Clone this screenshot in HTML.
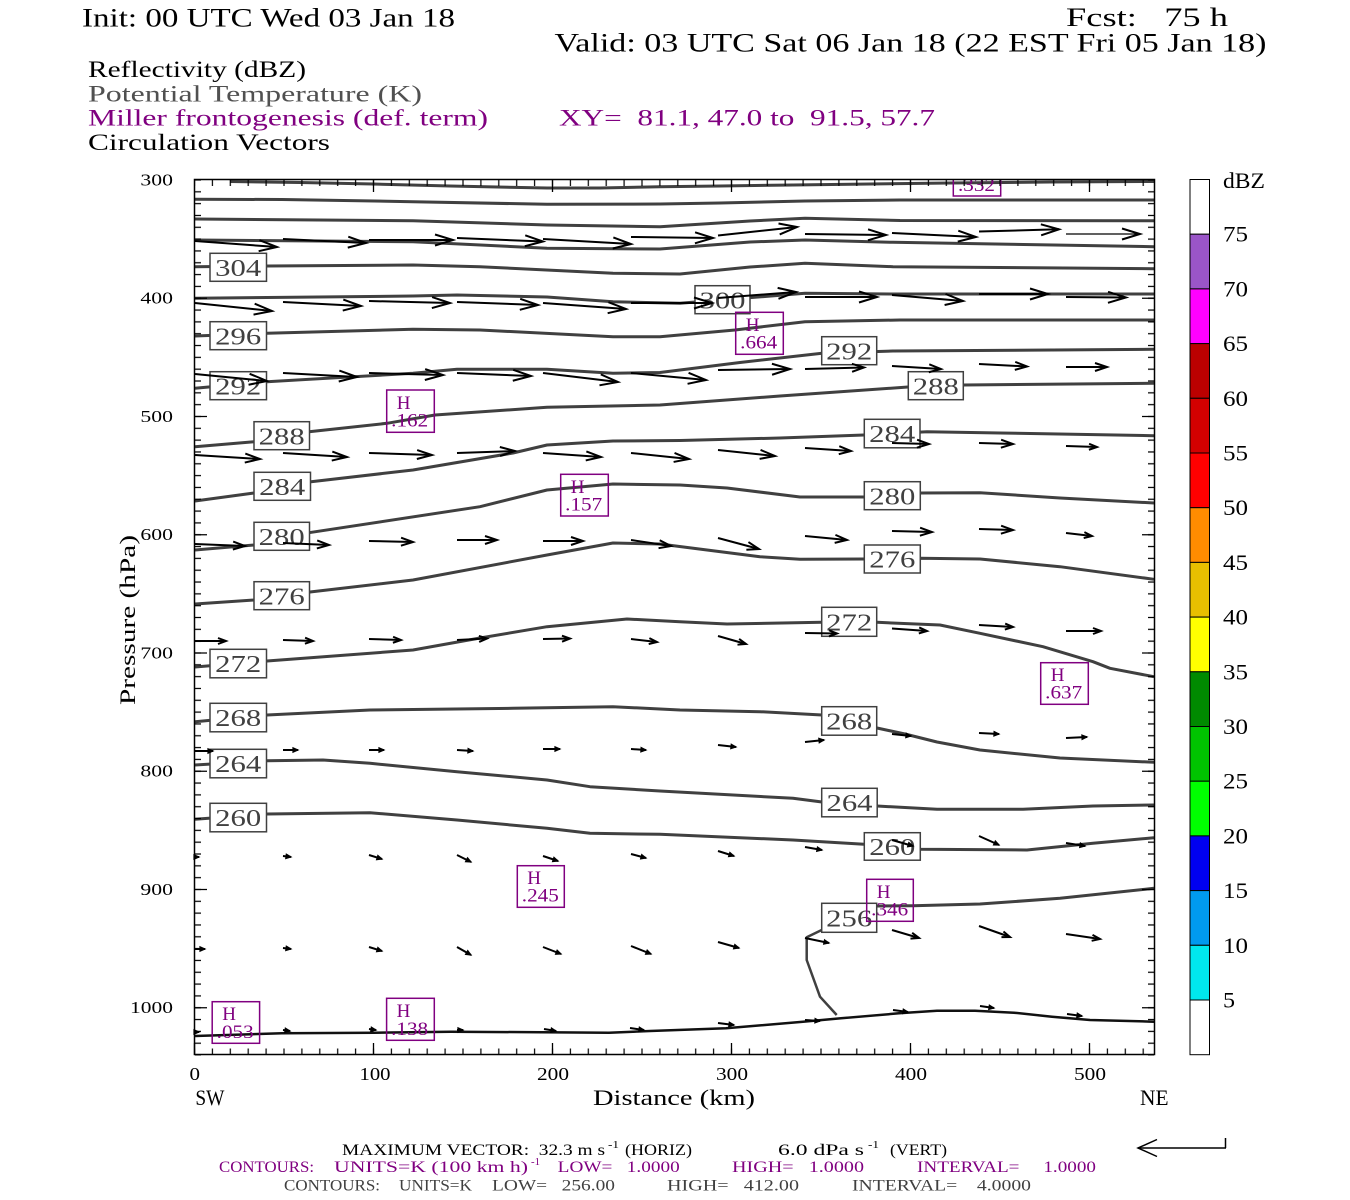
<!DOCTYPE html>
<html><head><meta charset="utf-8"><style>
html,body{margin:0;padding:0;background:#fff;}
svg{display:block;font-family:"Liberation Serif",serif;}
text{white-space:pre;}
</style></head><body>
<svg width="1350" height="1200" viewBox="0 0 1350 1200" xmlns="http://www.w3.org/2000/svg">
<defs>
<clipPath id="plot"><rect x="194.5" y="179.5" width="960" height="875"/></clipPath>
<pattern id="tx" x="193.5" y="0" width="17.9" height="1200" patternUnits="userSpaceOnUse"><line x1="1" y1="0" x2="1" y2="1200" stroke="#000" stroke-width="1.2"/></pattern>
<pattern id="ty" x="0" y="179" width="1350" height="11.825" patternUnits="userSpaceOnUse"><line x1="0" y1="1" x2="1350" y2="1" stroke="#000" stroke-width="1.2"/></pattern>
<marker id="mL" viewBox="0 0 20 12" refX="18" refY="6" markerWidth="20" markerHeight="12" markerUnits="userSpaceOnUse" orient="auto" overflow="visible"><path d="M0,0.5 L18,6 L0,11.5" fill="none" stroke="#000" stroke-width="2"/></marker>
<marker id="mML" viewBox="0 0 17 11" refX="15" refY="5.5" markerWidth="17" markerHeight="11" markerUnits="userSpaceOnUse" orient="auto" overflow="visible"><path d="M0,1 L15,5.5 L0,10" fill="none" stroke="#000" stroke-width="2"/></marker>
<marker id="mM" viewBox="0 0 14 10" refX="12" refY="5" markerWidth="14" markerHeight="10" markerUnits="userSpaceOnUse" orient="auto" overflow="visible"><path d="M0,1 L12,5 L0,9" fill="none" stroke="#000" stroke-width="2"/></marker>
<marker id="mS" viewBox="0 0 10 8" refX="8" refY="4" markerWidth="10" markerHeight="8" markerUnits="userSpaceOnUse" orient="auto" overflow="visible"><path d="M0,1 L8,4 L0,7" fill="none" stroke="#000" stroke-width="2"/></marker>
<marker id="mT" viewBox="0 0 7 6" refX="5" refY="3" markerWidth="7" markerHeight="6" markerUnits="userSpaceOnUse" orient="auto" overflow="visible"><path d="M0,0.8 L5,3 L0,5.2 Z" fill="#000" stroke="#000" stroke-width="1.2"/></marker>
</defs>
<rect width="1350" height="1200" fill="#fff"/>

<!-- Header text -->
<text x="82" y="26.5" font-size="26" textLength="373" lengthAdjust="spacingAndGlyphs">Init: 00 UTC Wed 03 Jan 18</text>
<text x="1066" y="26" font-size="26" textLength="162" lengthAdjust="spacingAndGlyphs">Fcst:   75 h</text>
<text x="554.5" y="51.5" font-size="26" textLength="712" lengthAdjust="spacingAndGlyphs">Valid: 03 UTC Sat 06 Jan 18 (22 EST Fri 05 Jan 18)</text>
<text x="88" y="77" font-size="23" textLength="218" lengthAdjust="spacingAndGlyphs">Reflectivity (dBZ)</text>
<text x="88" y="101.5" font-size="23" fill="#505050" textLength="334" lengthAdjust="spacingAndGlyphs">Potential Temperature (K)</text>
<text x="88" y="125.5" font-size="23" fill="#800080" textLength="400" lengthAdjust="spacingAndGlyphs">Miller frontogenesis (def. term)</text>
<text x="559" y="125.5" font-size="23" fill="#800080" textLength="376" lengthAdjust="spacingAndGlyphs">XY=  81.1, 47.0 to  91.5, 57.7</text>
<text x="88" y="150" font-size="23" textLength="242" lengthAdjust="spacingAndGlyphs">Circulation Vectors</text>

<!-- Contour lines -->
<g clip-path="url(#plot)" fill="none" stroke="#404040" stroke-width="3" stroke-linejoin="round">
<polyline points="230,181.5 300,182.5 373,184 450,186 547,188 600,188 660,186.7 720,186 793,185 870,184 950,183 1050,182 1154,181.5"/>
<polyline points="195,199.3 282,199.5 413,201.7 547,204.3 660,204 720,203 805,201 900,200 1154,200"/>
<polyline points="195,219 413,220.7 547,225 660,226.7 750,221 805,218.3 900,220.5 1154,220.7"/>
<polyline points="195,240 413,241.7 547,248.3 660,249 750,242 805,240 893,242.3 1154,246.7"/>
<polyline points="195,266.7 267,266 413,265 480,266.7 613,273.3 680,274 750,267 805,263.3 893,266.7 1154,268.7"/>
<polyline points="195,298.3 413,296 457,295 547,297 613,301.7 680,303.3 720,300 805,293.3 893,294 1154,294"/>
<polyline points="195,336 267,333.3 413,329.3 480,330 613,336.7 660,336.7 735,330 805,321.7 900,320 1154,320"/>
<polyline points="195,388.3 267,381.7 413,373.3 457,369.3 547,369.3 613,373.3 660,372.5 740,362.5 822,353.3 893,351 1154,349.3"/>
<polyline points="195,446.7 254,441.7 309,431.7 387,423.3 435,415 547,407.3 660,405 780,396 908,387 963,385 1154,383.3"/>
<polyline points="195,501 254,493 311,481.7 413,470 513,453 547,445 613,441 680,440.5 780,438 864,435 927,431.7 1000,433 1154,435.7"/>
<polyline points="195,550 254,545 309,532.7 480,506.7 547,490 613,484 680,485 727,488 800,497 864,497 920,493 980,492.7 1060,498 1154,503"/>
<polyline points="195,604 254,600 310,592 413,580 547,555 613,543 660,544 760,556.7 800,559.3 864,559 920,558.3 980,559 1060,566.7 1154,579.3"/>
<polyline points="195,667 267,661 413,650 480,638 547,626.7 627,619 680,621.7 727,624 822,622.3 877,622.3 940,625 980,633.3 1043,646.7 1093,661.7 1110,668.3 1154,676.7"/>
<polyline points="195,721.7 267,715 370,710 513,708.3 613,706.7 680,710 760,711.7 822,715 877,728 905,734 937,742 980,750 1060,758 1154,762.3"/>
<polyline points="195,765 267,760.7 323,760 370,763.3 457,771.7 547,780 590,786.7 660,791 793,798.3 822,802 877,806 937,809.3 1023,809.3 1093,806 1154,805"/>
<polyline points="195,819.3 267,814 370,812.7 457,820 547,828.3 590,833.3 660,834.3 793,840 864,844.3 920,849.3 1027,850 1093,843.3 1154,837.7"/>
<polyline points="877,906 913,905.7 980,904 1060,898.3 1154,888.3"/>
<polyline points="821.7,930 806.7,937.3 806.7,960 820,996.7 836.7,1015" stroke-width="2.5"/>
<polyline points="195,1036 282,1033.3 374,1032.7 451,1031.7 609,1032.7 650,1031 726,1028.3 803,1021.7 841,1018.3 899,1013.3 937,1010.7 975,1010.7 1014,1012.7 1052,1016.7 1090,1020 1154,1021.7" stroke="#111" stroke-width="2.5"/>
</g>

<!-- Contour labels -->
<g fill="#fff" stroke="#404040" stroke-width="1.5">
<rect x="210" y="253.3" width="56.5" height="28"/>
<rect x="210" y="321.7" width="56.5" height="28"/>
<rect x="210" y="371.7" width="56.5" height="28"/>
<rect x="254" y="421.7" width="55.5" height="28"/>
<rect x="254" y="472.3" width="56.5" height="28"/>
<rect x="254" y="522.3" width="55.5" height="28"/>
<rect x="254" y="581.7" width="55.5" height="28"/>
<rect x="210" y="649.3" width="56.5" height="28.5"/>
<rect x="210" y="703.3" width="56.5" height="28.5"/>
<rect x="210" y="749.3" width="56.5" height="28.5"/>
<rect x="210" y="803.3" width="56.5" height="28.5"/>
<rect x="695" y="285.7" width="55" height="28"/>
<rect x="821.7" y="336.7" width="55" height="28"/>
<rect x="908.3" y="371.7" width="55" height="28"/>
<rect x="864.3" y="419.3" width="55.7" height="28.5"/>
<rect x="864.3" y="481.7" width="56" height="28"/>
<rect x="864.3" y="545" width="56" height="28"/>
<rect x="821.7" y="607.3" width="55" height="29"/>
<rect x="821.7" y="706.7" width="55" height="28.5"/>
<rect x="821.7" y="788.3" width="55.5" height="28.5"/>
<rect x="864.3" y="832.7" width="56" height="27.5"/>
<rect x="821.7" y="903.3" width="55" height="29"/>
</g>
<g font-size="24" fill="#404040" text-anchor="middle">
<text x="238.2" y="276" textLength="46" lengthAdjust="spacingAndGlyphs">304</text>
<text x="238.2" y="344.4" textLength="46" lengthAdjust="spacingAndGlyphs">296</text>
<text x="238.2" y="394.4" textLength="46" lengthAdjust="spacingAndGlyphs">292</text>
<text x="281.7" y="444.4" textLength="46" lengthAdjust="spacingAndGlyphs">288</text>
<text x="282.2" y="495" textLength="46" lengthAdjust="spacingAndGlyphs">284</text>
<text x="281.7" y="545" textLength="46" lengthAdjust="spacingAndGlyphs">280</text>
<text x="281.7" y="604.4" textLength="46" lengthAdjust="spacingAndGlyphs">276</text>
<text x="238.2" y="672.2" textLength="46" lengthAdjust="spacingAndGlyphs">272</text>
<text x="238.2" y="726.2" textLength="46" lengthAdjust="spacingAndGlyphs">268</text>
<text x="238.2" y="772.2" textLength="46" lengthAdjust="spacingAndGlyphs">264</text>
<text x="238.2" y="826.2" textLength="46" lengthAdjust="spacingAndGlyphs">260</text>
<text x="722.5" y="308.4" textLength="46" lengthAdjust="spacingAndGlyphs">300</text>
<text x="849.2" y="359.4" textLength="46" lengthAdjust="spacingAndGlyphs">292</text>
<text x="935.8" y="394.4" textLength="46" lengthAdjust="spacingAndGlyphs">288</text>
<text x="892.2" y="442.2" textLength="46" lengthAdjust="spacingAndGlyphs">284</text>
<text x="892.3" y="504.4" textLength="46" lengthAdjust="spacingAndGlyphs">280</text>
<text x="892.3" y="567.7" textLength="46" lengthAdjust="spacingAndGlyphs">276</text>
<text x="849.2" y="630.3" textLength="46" lengthAdjust="spacingAndGlyphs">272</text>
<text x="849.2" y="729.4" textLength="46" lengthAdjust="spacingAndGlyphs">268</text>
<text x="849.5" y="811.2" textLength="46" lengthAdjust="spacingAndGlyphs">264</text>
<text x="892.3" y="854.9" textLength="46" lengthAdjust="spacingAndGlyphs">260</text>
<text x="849.2" y="926.3" textLength="46" lengthAdjust="spacingAndGlyphs">256</text>
</g>

<!-- Circulation vectors -->
<g stroke="#000" stroke-width="2" fill="none">
<g marker-end="url(#mL)">
<line x1="195" y1="241" x2="277" y2="247"/><line x1="283" y1="239" x2="366" y2="243"/><line x1="369" y1="240" x2="453" y2="240"/><line x1="457" y1="238" x2="543" y2="241.5"/><line x1="543" y1="239" x2="631" y2="244"/><line x1="631" y1="237" x2="713" y2="238"/><line x1="718" y1="235.5" x2="797" y2="227"/><line x1="805" y1="234" x2="886" y2="235"/><line x1="892" y1="233" x2="976" y2="237"/><line x1="979" y1="231.5" x2="1059" y2="229.3"/><line x1="1066" y1="234" x2="1140" y2="234" stroke-width="1.3"/>
<line x1="195" y1="303" x2="272" y2="311"/><line x1="283" y1="302" x2="361" y2="306"/><line x1="369" y1="301" x2="450" y2="303"/><line x1="457" y1="302" x2="538" y2="305"/><line x1="543" y1="303" x2="626" y2="309"/><line x1="631" y1="303" x2="712" y2="303"/><line x1="718" y1="298" x2="796" y2="292"/><line x1="805" y1="297" x2="877" y2="297"/><line x1="892" y1="295" x2="963" y2="301"/><line x1="979" y1="294" x2="1048" y2="294"/><line x1="1066" y1="297" x2="1126" y2="297.5"/>
<line x1="195" y1="374" x2="267" y2="381"/><line x1="283" y1="373" x2="357" y2="377"/><line x1="369" y1="373" x2="443" y2="375"/><line x1="457" y1="373" x2="531" y2="376"/><line x1="543" y1="373" x2="618" y2="382"/><line x1="631" y1="373" x2="706" y2="380"/><line x1="718" y1="370" x2="790" y2="369"/>
</g>
<g marker-end="url(#mM)">
<line x1="805" y1="369" x2="864" y2="367.5"/><line x1="892" y1="366" x2="941" y2="369"/><line x1="979" y1="364" x2="1027" y2="366.5"/><line x1="1066" y1="367" x2="1107" y2="367"/>
</g>
<g marker-end="url(#mML)">
<line x1="195" y1="455" x2="260" y2="459"/><line x1="283" y1="453" x2="347" y2="457"/><line x1="369" y1="453" x2="432" y2="455"/><line x1="457" y1="453" x2="515" y2="451"/><line x1="543" y1="453" x2="601" y2="457"/><line x1="631" y1="453" x2="689" y2="459"/><line x1="718" y1="450" x2="775" y2="456"/>
</g>
<g marker-end="url(#mM)">
<line x1="805" y1="448" x2="851" y2="451"/><line x1="892" y1="443" x2="929" y2="444"/><line x1="979" y1="443" x2="1013" y2="444"/>
<line x1="195" y1="544" x2="245" y2="546"/><line x1="283" y1="543" x2="329" y2="545"/><line x1="369" y1="541" x2="413" y2="542"/><line x1="457" y1="540" x2="497" y2="540"/><line x1="543" y1="541" x2="583" y2="541"/><line x1="631" y1="540" x2="671" y2="546"/><line x1="718" y1="538" x2="759" y2="549"/><line x1="805" y1="536" x2="847" y2="540"/><line x1="892" y1="531" x2="932" y2="532"/><line x1="979" y1="529" x2="1013" y2="530"/>
</g>
<g marker-end="url(#mS)">
<line x1="1066" y1="446" x2="1097" y2="447"/><line x1="1066" y1="533" x2="1092" y2="536"/>
<line x1="195" y1="641" x2="226" y2="641"/><line x1="283" y1="640" x2="313" y2="641"/><line x1="369" y1="639" x2="401" y2="640"/><line x1="457" y1="640" x2="487" y2="638.5"/><line x1="543" y1="639" x2="570" y2="638.5"/><line x1="631" y1="639" x2="657" y2="642"/><line x1="718" y1="636" x2="746" y2="644"/><line x1="805" y1="633" x2="837" y2="633.5"/><line x1="892" y1="628.5" x2="927" y2="631"/><line x1="979" y1="625" x2="1013" y2="627"/><line x1="1066" y1="631" x2="1101" y2="631"/>
<line x1="892" y1="930" x2="919" y2="938"/><line x1="979" y1="926" x2="1010" y2="937"/><line x1="1066" y1="934" x2="1100" y2="939"/>
</g>
<g marker-end="url(#mT)">
<line x1="195" y1="751" x2="213" y2="751"/><line x1="283" y1="750" x2="298" y2="750"/><line x1="369" y1="750" x2="384" y2="750"/><line x1="457" y1="750" x2="473" y2="751"/><line x1="543" y1="749" x2="560" y2="749"/><line x1="631" y1="749" x2="646" y2="750"/><line x1="718" y1="745" x2="736" y2="747"/><line x1="805" y1="742" x2="824" y2="740"/><line x1="892" y1="734" x2="911" y2="736"/><line x1="979" y1="733" x2="999" y2="734"/><line x1="1066" y1="738" x2="1087" y2="737"/>
<line x1="195" y1="857" x2="199" y2="857"/><line x1="283" y1="856" x2="291" y2="857"/><line x1="369" y1="855" x2="382" y2="859"/><line x1="457" y1="855" x2="471" y2="862"/><line x1="543" y1="856" x2="558" y2="861"/><line x1="631" y1="854" x2="646" y2="858"/><line x1="718" y1="851" x2="734" y2="856"/><line x1="805" y1="847" x2="822" y2="850"/><line x1="892" y1="840" x2="913" y2="846"/><line x1="979" y1="836" x2="999" y2="845"/><line x1="1066" y1="843" x2="1085" y2="846"/>
<line x1="195" y1="949" x2="205" y2="949"/><line x1="283" y1="948" x2="291" y2="949"/><line x1="369" y1="947" x2="382" y2="951"/><line x1="457" y1="947" x2="471" y2="955"/><line x1="543" y1="947" x2="561" y2="954"/><line x1="631" y1="946" x2="651" y2="954"/><line x1="718" y1="942" x2="739" y2="948"/><line x1="805" y1="938" x2="829" y2="943"/>
<line x1="195" y1="1032" x2="199" y2="1032"/><line x1="283" y1="1030" x2="290" y2="1031"/><line x1="369" y1="1029" x2="376" y2="1030"/><line x1="457" y1="1030" x2="463" y2="1030"/><line x1="544" y1="1029" x2="556" y2="1031"/><line x1="630" y1="1028" x2="644" y2="1030"/><line x1="718" y1="1023" x2="734" y2="1025"/><line x1="805" y1="1020" x2="820" y2="1021"/><line x1="893" y1="1010" x2="908" y2="1012"/><line x1="980" y1="1006" x2="994" y2="1008"/><line x1="1067" y1="1014" x2="1082" y2="1016"/>
</g>
</g>

<!-- Frontogenesis maxima -->
<g fill="none" stroke="#800080" stroke-width="1.5">
<rect x="386.7" y="390" width="47.6" height="42.3"/>
<rect x="735.7" y="312.3" width="47.6" height="42"/>
<rect x="560.7" y="474.3" width="47.6" height="41.7"/>
<rect x="1040.7" y="662.7" width="47.6" height="41.6"/>
<rect x="517.3" y="865.7" width="47" height="41.6"/>
<rect x="866.7" y="879.3" width="46.6" height="42"/>
<rect x="212.2" y="1001.7" width="47.4" height="41.6"/>
<rect x="386.6" y="998.3" width="47.7" height="42"/>
<path d="M953.3,180 V196 H1000.7 V180"/>
</g>
<g font-size="19" fill="#800080">
<text x="396.7" y="409">H</text><text x="391.2" y="426.5" textLength="37" lengthAdjust="spacingAndGlyphs">.162</text>
<text x="745.7" y="331">H</text><text x="740.2" y="348.5" textLength="37" lengthAdjust="spacingAndGlyphs">.664</text>
<text x="570.7" y="493">H</text><text x="565.2" y="510.5" textLength="37" lengthAdjust="spacingAndGlyphs">.157</text>
<text x="1050.7" y="681">H</text><text x="1045.2" y="698.5" textLength="37" lengthAdjust="spacingAndGlyphs">.637</text>
<text x="527.3" y="884">H</text><text x="521.8" y="901.5" textLength="37" lengthAdjust="spacingAndGlyphs">.245</text>
<text x="876.7" y="898">H</text><text x="871.2" y="915.5" textLength="37" lengthAdjust="spacingAndGlyphs">.346</text>
<text x="222.2" y="1020">H</text><text x="216.7" y="1037.8" textLength="37" lengthAdjust="spacingAndGlyphs">.053</text>
<text x="396.6" y="1017">H</text><text x="391.1" y="1035" textLength="37" lengthAdjust="spacingAndGlyphs">.138</text>
<text x="958" y="191" textLength="37" lengthAdjust="spacingAndGlyphs" clip-path="url(#plot)">.332</text>
</g>

<!-- Axes frame and ticks -->
<rect x="194" y="1048.5" width="961" height="6.5" fill="url(#tx)"/>
<rect x="194" y="180" width="961" height="6" fill="url(#tx)"/>
<rect x="195" y="179" width="6" height="876.5" fill="url(#ty)"/>
<rect x="1148" y="179" width="6" height="876.5" fill="url(#ty)"/>
<path d="M194.5,1055 v-12 M373.5,1055 v-12 M552.5,1055 v-12 M731.5,1055 v-12 M910.5,1055 v-12 M1089.5,1055 v-12 M373.5,180 v12 M552.5,180 v12 M731.5,180 v12 M910.5,180 v12 M1089.5,180 v12 M195,298.25 h12 M195,416.5 h12 M195,534.75 h12 M195,653 h12 M195,771.25 h12 M195,889.5 h12 M195,1007.75 h12 M1154,298.25 h-12 M1154,416.5 h-12 M1154,534.75 h-12 M1154,653 h-12 M1154,771.25 h-12 M1154,889.5 h-12 M1154,1007.75 h-12" stroke="#000" stroke-width="1.3" fill="none"/>
<rect x="194.5" y="179.5" width="960" height="875" fill="none" stroke="#000" stroke-width="1.5"/>

<!-- Axis labels -->
<g font-size="17" text-anchor="end">
<text x="173" y="185.5" textLength="32.6" lengthAdjust="spacingAndGlyphs">300</text>
<text x="173" y="303.7" textLength="32.6" lengthAdjust="spacingAndGlyphs">400</text>
<text x="173" y="422" textLength="32.6" lengthAdjust="spacingAndGlyphs">500</text>
<text x="173" y="540.2" textLength="32.6" lengthAdjust="spacingAndGlyphs">600</text>
<text x="173" y="658.5" textLength="32.6" lengthAdjust="spacingAndGlyphs">700</text>
<text x="173" y="776.7" textLength="32.6" lengthAdjust="spacingAndGlyphs">800</text>
<text x="173" y="895" textLength="32.6" lengthAdjust="spacingAndGlyphs">900</text>
<text x="173" y="1013.2" textLength="43" lengthAdjust="spacingAndGlyphs">1000</text>
</g>
<g font-size="18" text-anchor="middle">
<text x="194.8" y="1080" textLength="10.5" lengthAdjust="spacingAndGlyphs">0</text>
<text x="375" y="1080" textLength="31" lengthAdjust="spacingAndGlyphs">100</text>
<text x="553" y="1080" textLength="32" lengthAdjust="spacingAndGlyphs">200</text>
<text x="732" y="1080" textLength="32" lengthAdjust="spacingAndGlyphs">300</text>
<text x="911" y="1080" textLength="32" lengthAdjust="spacingAndGlyphs">400</text>
<text x="1090" y="1080" textLength="32" lengthAdjust="spacingAndGlyphs">500</text>
</g>
<text x="195.4" y="1105" font-size="22" textLength="29" lengthAdjust="spacingAndGlyphs">SW</text>
<text x="593" y="1105" font-size="22" textLength="162" lengthAdjust="spacingAndGlyphs">Distance (km)</text>
<text x="1140" y="1105" font-size="22" textLength="28.5" lengthAdjust="spacingAndGlyphs">NE</text>
<text transform="translate(135,620) rotate(-90)" font-size="22" text-anchor="middle" textLength="170" lengthAdjust="spacingAndGlyphs">Pressure (hPa)</text>

<!-- Color bar -->
<g stroke="#000" stroke-width="1">
<rect x="1190" y="179.5" width="19.5" height="54.7" fill="#ffffff"/>
<rect x="1190" y="234.2" width="19.5" height="54.7" fill="#9a55c8"/>
<rect x="1190" y="288.9" width="19.5" height="54.7" fill="#ff00ff"/>
<rect x="1190" y="343.6" width="19.5" height="54.7" fill="#bb0000"/>
<rect x="1190" y="398.3" width="19.5" height="54.7" fill="#d30000"/>
<rect x="1190" y="453" width="19.5" height="54.7" fill="#ff0000"/>
<rect x="1190" y="507.7" width="19.5" height="54.7" fill="#ff8c00"/>
<rect x="1190" y="562.4" width="19.5" height="54.7" fill="#e8bf00"/>
<rect x="1190" y="617.1" width="19.5" height="54.7" fill="#ffff00"/>
<rect x="1190" y="671.8" width="19.5" height="54.7" fill="#008a00"/>
<rect x="1190" y="726.5" width="19.5" height="54.7" fill="#00c400"/>
<rect x="1190" y="781.2" width="19.5" height="54.7" fill="#00ff00"/>
<rect x="1190" y="835.9" width="19.5" height="54.7" fill="#0000f0"/>
<rect x="1190" y="890.6" width="19.5" height="54.7" fill="#009aef"/>
<rect x="1190" y="945.3" width="19.5" height="54.7" fill="#00e8ee"/>
<rect x="1190" y="1000" width="19.5" height="54.7" fill="#ffffff"/>
</g>
<g font-size="22">
<text x="1223" y="188" textLength="42" lengthAdjust="spacingAndGlyphs">dBZ</text>
<text x="1223" y="241.7" textLength="25" lengthAdjust="spacingAndGlyphs">75</text>
<text x="1223" y="296.4" textLength="25" lengthAdjust="spacingAndGlyphs">70</text>
<text x="1223" y="351.1" textLength="25" lengthAdjust="spacingAndGlyphs">65</text>
<text x="1223" y="405.8" textLength="25" lengthAdjust="spacingAndGlyphs">60</text>
<text x="1223" y="460.5" textLength="25" lengthAdjust="spacingAndGlyphs">55</text>
<text x="1223" y="515.2" textLength="25" lengthAdjust="spacingAndGlyphs">50</text>
<text x="1223" y="569.9" textLength="25" lengthAdjust="spacingAndGlyphs">45</text>
<text x="1223" y="624.6" textLength="25" lengthAdjust="spacingAndGlyphs">40</text>
<text x="1223" y="679.3" textLength="25" lengthAdjust="spacingAndGlyphs">35</text>
<text x="1223" y="734" textLength="25" lengthAdjust="spacingAndGlyphs">30</text>
<text x="1223" y="788.7" textLength="25" lengthAdjust="spacingAndGlyphs">25</text>
<text x="1223" y="843.4" textLength="25" lengthAdjust="spacingAndGlyphs">20</text>
<text x="1223" y="898.1" textLength="25" lengthAdjust="spacingAndGlyphs">15</text>
<text x="1223" y="952.8" textLength="25" lengthAdjust="spacingAndGlyphs">10</text>
<text x="1223" y="1007.5" textLength="12" lengthAdjust="spacingAndGlyphs">5</text>
</g>

<!-- Bottom annotation -->
<g font-size="16">
<text x="342" y="1155" textLength="263" lengthAdjust="spacingAndGlyphs">MAXIMUM VECTOR:  32.3 m s</text>
<text x="608" y="1148" font-size="11" textLength="11" lengthAdjust="spacingAndGlyphs">-1</text>
<text x="625" y="1155" textLength="67" lengthAdjust="spacingAndGlyphs">(HORIZ)</text>
<text x="778" y="1155" textLength="86" lengthAdjust="spacingAndGlyphs">6.0 dPa s</text>
<text x="868" y="1148" font-size="11" textLength="11" lengthAdjust="spacingAndGlyphs">-1</text>
<text x="890" y="1155" textLength="57" lengthAdjust="spacingAndGlyphs">(VERT)</text>
</g>
<g font-size="16" fill="#800080">
<text x="219" y="1172" textLength="95" lengthAdjust="spacingAndGlyphs">CONTOURS:</text>
<text x="334" y="1172" textLength="194" lengthAdjust="spacingAndGlyphs">UNITS=K (100 km h)</text>
<text x="531" y="1165" font-size="11" textLength="9" lengthAdjust="spacingAndGlyphs">-1</text>
<text x="557.7" y="1172" textLength="122" lengthAdjust="spacingAndGlyphs">LOW=   1.0000</text>
<text x="732" y="1172" textLength="132" lengthAdjust="spacingAndGlyphs">HIGH=   1.0000</text>
<text x="917" y="1172" textLength="179" lengthAdjust="spacingAndGlyphs">INTERVAL=     1.0000</text>
</g>
<g font-size="16" fill="#404040">
<text x="284" y="1190.5" textLength="96" lengthAdjust="spacingAndGlyphs">CONTOURS:</text>
<text x="399" y="1190.5" textLength="73" lengthAdjust="spacingAndGlyphs">UNITS=K</text>
<text x="492" y="1190.5" textLength="123" lengthAdjust="spacingAndGlyphs">LOW=   256.00</text>
<text x="667" y="1190.5" textLength="132" lengthAdjust="spacingAndGlyphs">HIGH=   412.00</text>
<text x="852" y="1190.5" textLength="179" lengthAdjust="spacingAndGlyphs">INTERVAL=    4.0000</text>
</g>
<g stroke="#000" stroke-width="1.5" fill="none">
<line x1="1138" y1="1148" x2="1226" y2="1148"/>
<polyline points="1157,1139.5 1138,1148 1157,1156.5"/>
<line x1="1225.5" y1="1148" x2="1225.5" y2="1138"/>
</g>
</svg>
</body></html>
